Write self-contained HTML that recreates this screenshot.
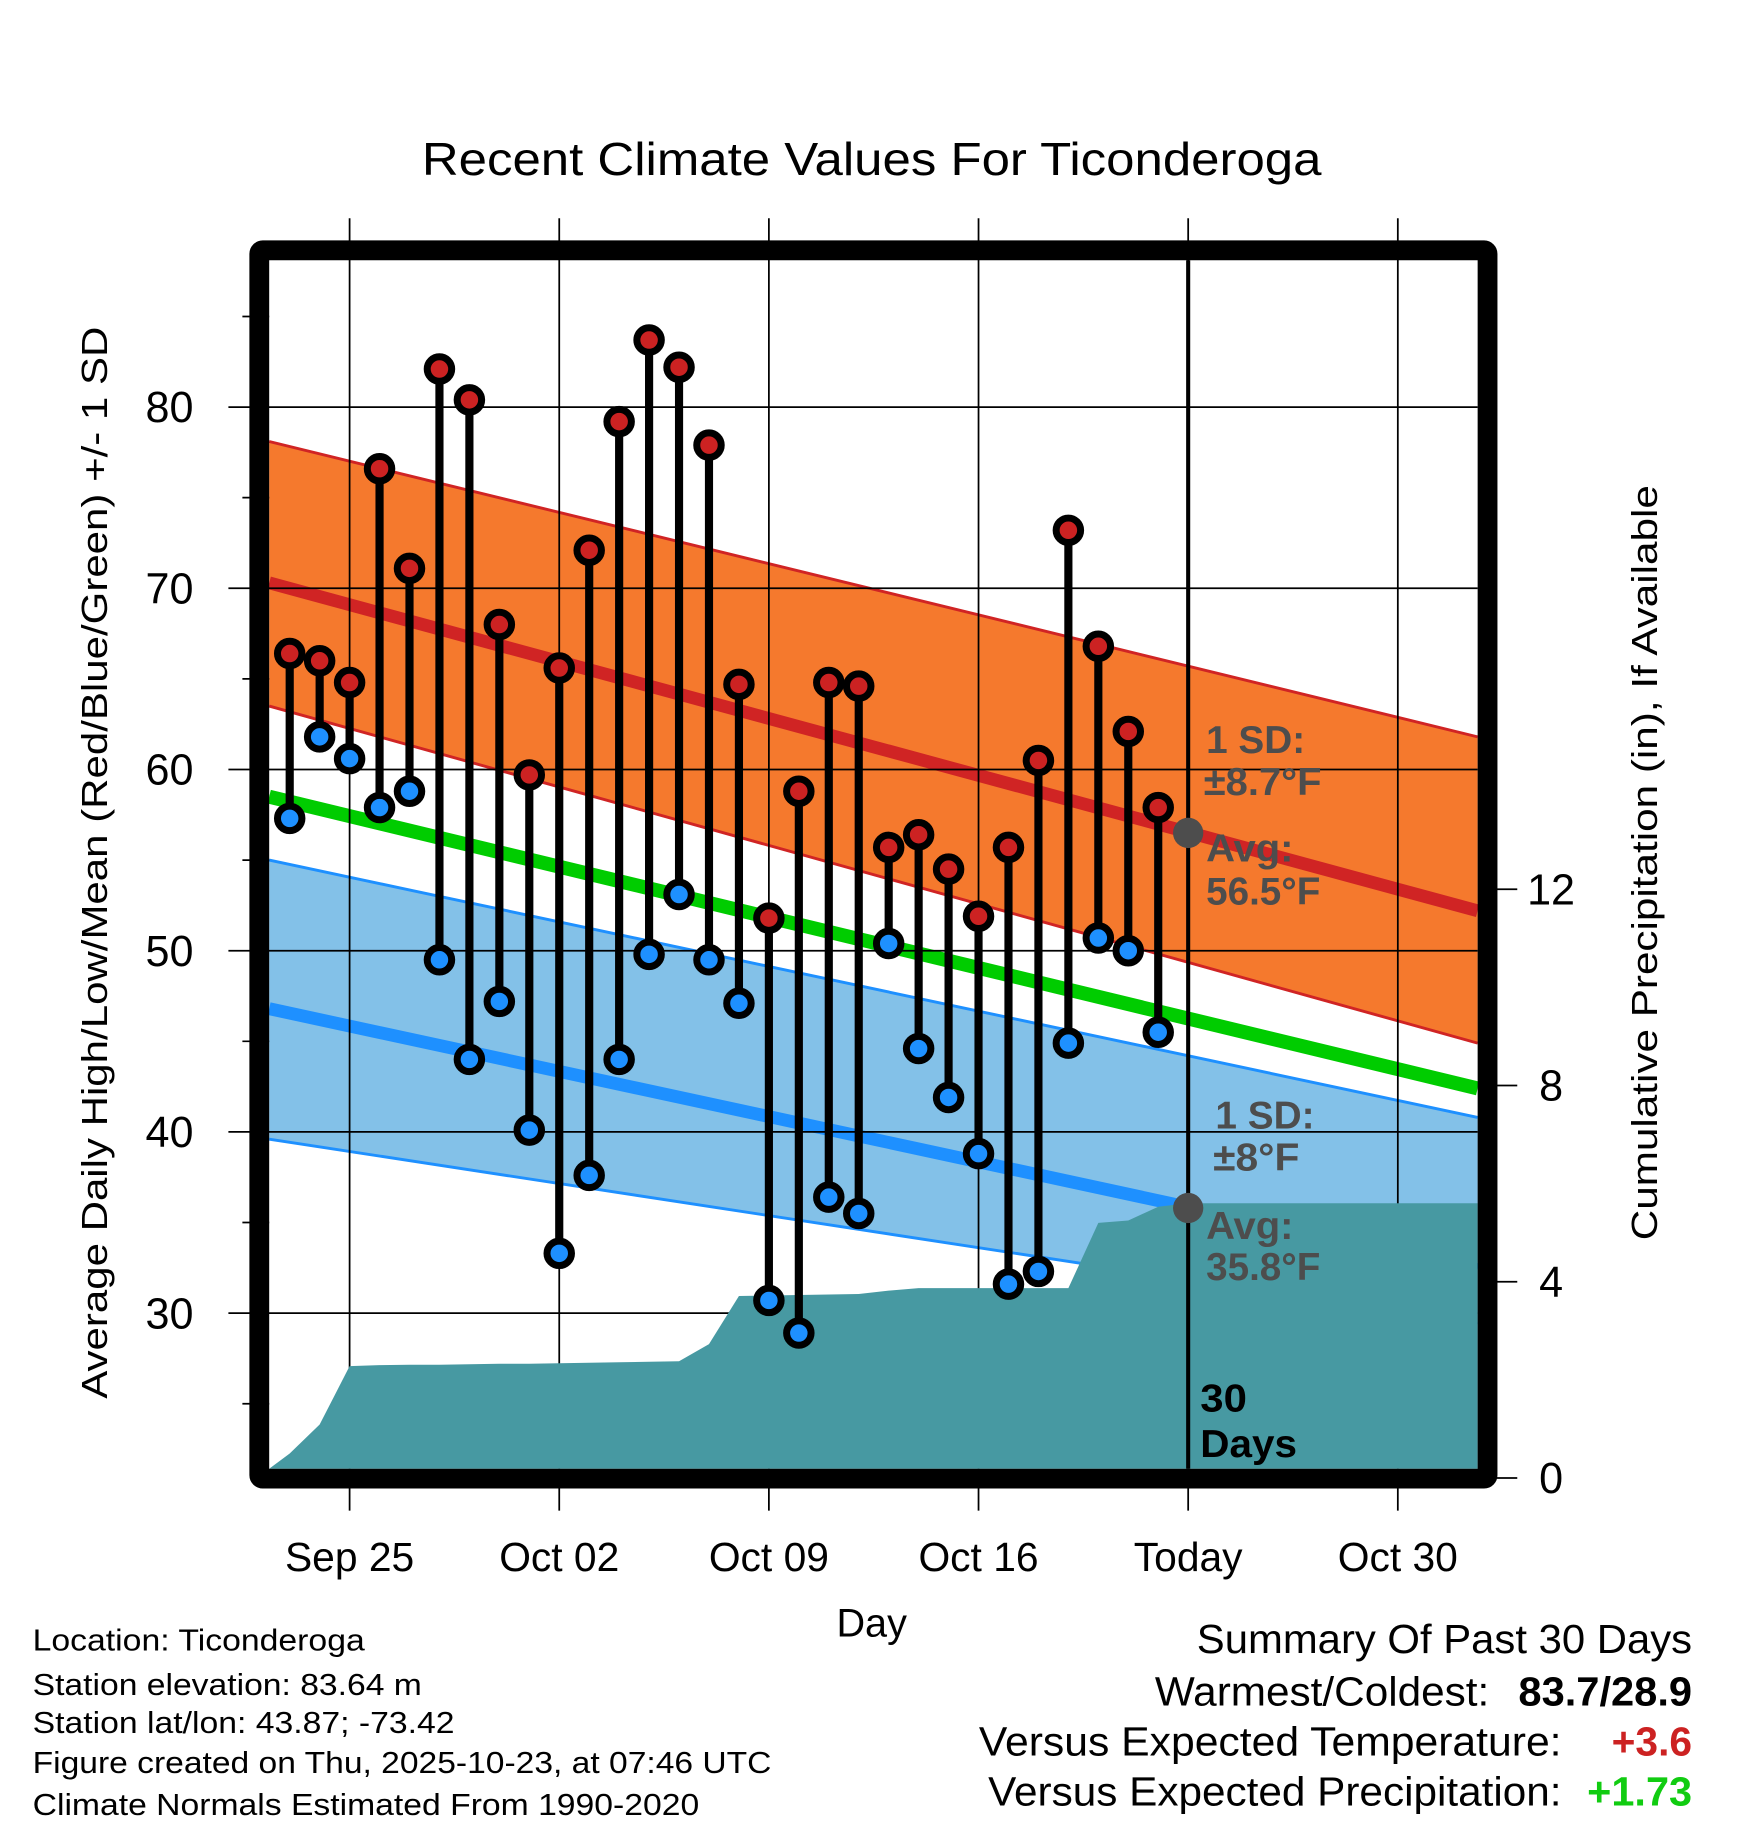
<!DOCTYPE html>
<html><head><meta charset="utf-8">
<style>
html,body{margin:0;padding:0;background:#fff;}
svg{display:block;font-family:"Liberation Sans",Arial,sans-serif;}
</style></head>
<body>
<svg id="chart" width="1748" height="1828" viewBox="0 0 1500 1568" xmlns="http://www.w3.org/2000/svg">
<rect x="0" y="0" width="1500" height="1568" fill="#fff"/>
<g id="bands"></g>
<g id="grid"></g>
<g id="precip"></g>
<g id="todayg"></g>
<g id="marks"></g>
<g id="frame"></g>
<g id="texts">
<text x="748" y="150" font-size="40" text-anchor="middle" textLength="772" lengthAdjust="spacingAndGlyphs">Recent Climate Values For Ticonderoga</text>
<text transform="translate(92,740) rotate(-90)" font-size="31" text-anchor="middle" textLength="920" lengthAdjust="spacingAndGlyphs">Average Daily High/Low/Mean (Red/Blue/Green) +/- 1 SD</text>
<text transform="translate(1422,740) rotate(-90)" font-size="31" text-anchor="middle" textLength="648" lengthAdjust="spacingAndGlyphs">Cumulative Precipitation (in), If Available</text>
<text x="748" y="1404" font-size="34" text-anchor="middle">Day</text>
<g font-size="33" font-weight="bold" fill="#4d4d4d">
<text x="1035" y="646" textLength="85" lengthAdjust="spacingAndGlyphs">1 SD:</text>
<text x="1033" y="682" textLength="101" lengthAdjust="spacingAndGlyphs">±8.7°F</text>
<text x="1035" y="739" textLength="75" lengthAdjust="spacingAndGlyphs">Avg:</text>
<text x="1035" y="776" textLength="98" lengthAdjust="spacingAndGlyphs">56.5°F</text>
<text x="1043" y="968" textLength="85" lengthAdjust="spacingAndGlyphs">1 SD:</text>
<text x="1041" y="1004" textLength="74" lengthAdjust="spacingAndGlyphs">±8°F</text>
<text x="1035" y="1063" textLength="75" lengthAdjust="spacingAndGlyphs">Avg:</text>
<text x="1035" y="1098" textLength="98" lengthAdjust="spacingAndGlyphs">35.8°F</text>
</g>
<text x="1030" y="1211" font-size="33" font-weight="bold" textLength="40" lengthAdjust="spacingAndGlyphs">30</text>
<text x="1030" y="1250" font-size="33" font-weight="bold" textLength="83" lengthAdjust="spacingAndGlyphs">Days</text>
<g font-size="26">
<text x="28" y="1416" textLength="285" lengthAdjust="spacingAndGlyphs">Location: Ticonderoga</text>
<text x="28" y="1454" textLength="334" lengthAdjust="spacingAndGlyphs">Station elevation: 83.64 m</text>
<text x="28" y="1487" textLength="362" lengthAdjust="spacingAndGlyphs">Station lat/lon: 43.87; -73.42</text>
<text x="28" y="1521" textLength="634" lengthAdjust="spacingAndGlyphs">Figure created on Thu, 2025-10-23, at 07:46 UTC</text>
<text x="28" y="1557" textLength="572" lengthAdjust="spacingAndGlyphs">Climate Normals Estimated From 1990-2020</text>
</g>
<g font-size="35">
<text x="1027" y="1418" textLength="425" lengthAdjust="spacingAndGlyphs">Summary Of Past 30 Days</text>
<text x="991" y="1463" textLength="287" lengthAdjust="spacingAndGlyphs">Warmest/Coldest:</text>
<text x="1303" y="1463" font-weight="bold" textLength="149" lengthAdjust="spacingAndGlyphs">83.7/28.9</text>
<text x="840" y="1506" textLength="500" lengthAdjust="spacingAndGlyphs">Versus Expected Temperature:</text>
<text x="1383" y="1506" font-weight="bold" fill="#cc2222" textLength="69" lengthAdjust="spacingAndGlyphs">+3.6</text>
<text x="848" y="1549" textLength="492" lengthAdjust="spacingAndGlyphs">Versus Expected Precipitation:</text>
<text x="1362" y="1549" font-weight="bold" fill="#11cc11" textLength="90" lengthAdjust="spacingAndGlyphs">+1.73</text>
</g>
</g>
</svg>
<script>
// ---- data ----
const highs = [66.4,66.0,64.8,76.6,71.1,82.1,80.4,68.0,59.7,65.6,72.1,79.2,83.7,82.2,77.9,64.7,51.8,58.8,64.8,64.6,55.7,56.4,54.5,51.9,55.7,60.5,73.2,66.8,62.1,57.9];
const lows = [57.3,61.8,60.6,57.9,58.8,49.5,44.0,47.2,40.1,33.3,37.6,44.0,49.8,53.1,49.5,47.1,30.7,28.9,36.4,35.5,50.4,44.6,41.9,38.8,31.6,32.3,44.9,50.7,50.0,45.5];
const precipCum = [0.5,1.09,2.28,2.30,2.31,2.31,2.32,2.33,2.33,2.34,2.35,2.36,2.37,2.38,2.73,3.71,3.72,3.73,3.74,3.75,3.82,3.87,3.87,3.87,3.87,3.87,3.87,5.2,5.25,5.53,5.6];
// normals at left and right plot edges: [start, end]
const normHighSdTop = [78.1,61.8];
const normHighSdBot = [63.5,44.9];
const normHigh = [70.3,52.2];
const normMean = [58.5,42.4];
const normLowSdTop = [55.0,40.8];
const normLowSdBot = [39.6,29.4];
const normLow = [46.8,32.4];
const xTickLabels = ["Sep 25","Oct 02","Oct 09","Oct 16","Today","Oct 30"];
const xTickDays = [2,9,16,23,30,37];
const yTicks = [30,40,50,60,70,80];
const y2Ticks = [0,4,8,12];
const todayMarkers = [56.5,35.8];

// ---- axes ----
const X0=231, X1=1268, Y0=223, Y1=1260;
const x = d => 248.6 + (d)*25.7;
const y = t => 349 + (80-t)*15.55;
const y2 = p => 1268 - p*42.1;
const NS="http://www.w3.org/2000/svg";
function mk(tag, attrs, parent){const e=document.createElementNS(NS,tag);for(const k in attrs)e.setAttribute(k,attrs[k]);parent.appendChild(e);return e;}
const $=id=>document.getElementById(id);

function band(top,bot,fill,name){
  const p=mk('polygon',{points:`${X0},${y(top[0])} ${X1},${y(top[1])} ${X1},${y(bot[1])} ${X0},${y(bot[0])}`,fill:fill},$('bands'));
  
  
}
function nline(v,color,w,name){
  const l=mk('line',{x1:X0,y1:y(v[0]),x2:X1,y2:y(v[1]),stroke:color,'stroke-width':w},$('bands'));
  
  
}
band(normHighSdTop,normHighSdBot,'#f5792d','high-sd-band');
nline(normHighSdTop,'#d02424',2.5,'high-sd-top-line');
nline(normHighSdBot,'#d02424',2.5,'high-sd-bottom-line');
band(normLowSdTop,normLowSdBot,'#83c1e8','low-sd-band');
nline(normLowSdTop,'#1e90ff',2.5,'low-sd-top-line');
nline(normLowSdBot,'#1e90ff',2.5,'low-sd-bottom-line');
nline(normHigh,'#d02424',11,'normal-high-line');
nline(normMean,'#00cc00',12,'normal-mean-line');
nline(normLow,'#1e90ff',11,'normal-low-line');

yTicks.forEach(t=>{
  const l=mk('line',{x1:196,y1:y(t),x2:X1,y2:y(t),stroke:'#000','stroke-width':1.5},$('grid'));
  
  
  const tx=mk('text',{x:166,y:y(t)+13,'font-size':37,'text-anchor':'end'},$('grid'));
  tx.textContent=t;
  
  
});
for(let t=25;t<=85;t+=5){ if(t%10===0)continue;
  const l=mk('line',{x1:208,y1:y(t),x2:X0,y2:y(t),stroke:'#000','stroke-width':1.5},$('grid'));
  
  
}
xTickDays.forEach((d,i)=>{
  const l=mk('line',{x1:x(d),y1:187,x2:x(d),y2:Y1,stroke:'#000','stroke-width':1.5},$('grid'));
  
  
  const tk=mk('line',{x1:x(d),y1:1276,x2:x(d),y2:1296,stroke:'#000','stroke-width':1.5},$('grid'));
  
  
  const tx=mk('text',{x:x(d),y:1348,'font-size':35,'text-anchor':'middle'},$('grid'));
  tx.textContent=xTickLabels[i];
  
  
});
y2Ticks.forEach(p=>{
  const l=mk('line',{x1:1284,y1:y2(p),x2:1302,y2:y2(p),stroke:'#000','stroke-width':1.5},$('grid'));
  
  
  const tx=mk('text',{x:1331,y:y2(p)+13,'font-size':37,'text-anchor':'middle'},$('grid'));
  tx.textContent=p;
  
  
});

let pts=`${X0},${Y1} `;
precipCum.forEach((p,i)=>{pts+=`${x(i)},${Math.min(y2(p),Y1)} `;});
pts+=`${X1},${y2(precipCum[precipCum.length-1])} ${X1},${Y1}`;
const pa=mk('polygon',{points:pts,fill:'#4799a2'},$('precip'));



const tl=mk('line',{x1:x(30),y1:Y0,x2:x(30),y2:Y1,stroke:'#000','stroke-width':3.5},$('todayg'));


todayMarkers.forEach(v=>{
  const c=mk('circle',{cx:x(30),cy:y(v),r:13,fill:'#4d4d4d'},$('todayg'));
  
  
});

highs.forEach((h,i)=>{
  const l=mk('line',{x1:x(i),y1:y(h),x2:x(i),y2:y(lows[i]),stroke:'#000','stroke-width':7},$('marks'));
  
  
});
highs.forEach((h,i)=>{
  const c=mk('circle',{cx:x(i),cy:y(h),r:10.5,fill:'#cc2222',stroke:'#000','stroke-width':6},$('marks'));
  
  
  const c2=mk('circle',{cx:x(i),cy:y(lows[i]),r:10.5,fill:'#1e90ff',stroke:'#000','stroke-width':6},$('marks'));
  
  
});

const fr=mk('rect',{x:222.5,y:214.5,width:1054,height:1054,fill:'none',stroke:'#000','stroke-width':17,rx:3},$('frame'));


</script>
</body></html>
